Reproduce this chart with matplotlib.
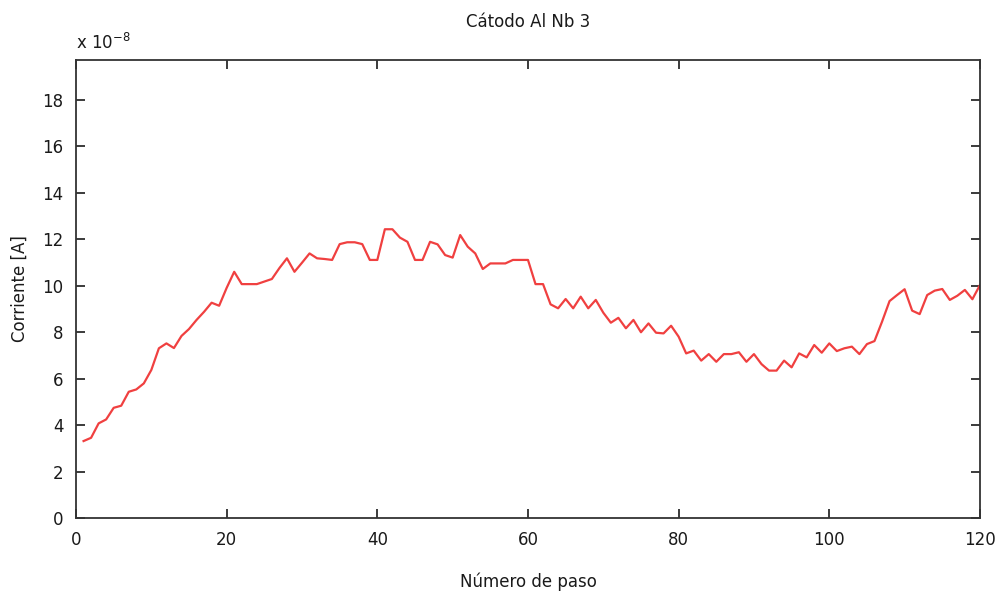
import numpy as np
import matplotlib.pyplot as plt

# Corriente medida en cada paso (en unidades de 1e-8 A)
paso = list(range(1, 121))
corriente = [
    3.31, 3.45, 4.07, 4.24, 4.74, 4.83, 5.43, 5.53, 5.79, 6.37,
    7.30, 7.51, 7.31, 7.83, 8.13, 8.52, 8.87, 9.26, 9.13, 9.90,
    10.59, 10.06, 10.06, 10.06, 10.17, 10.28, 10.75, 11.17, 10.59, 10.98,
    11.38, 11.17, 11.14, 11.10, 11.78, 11.86, 11.86, 11.78, 11.10, 11.10,
    12.42, 12.42, 12.06, 11.88, 11.10, 11.10, 11.88, 11.77, 11.31, 11.20,
    12.17, 11.67, 11.38, 10.71, 10.95, 10.95, 10.95, 11.10, 11.10, 11.10,
    10.06, 10.06, 9.19, 9.02, 9.42, 9.02, 9.52, 9.02, 9.38, 8.83,
    8.40, 8.61, 8.16, 8.52, 7.99, 8.37, 7.97, 7.94, 8.27, 7.80,
    7.08, 7.20, 6.77, 7.05, 6.72, 7.05, 7.05, 7.13, 6.72, 7.05,
    6.62, 6.34, 6.34, 6.77, 6.48, 7.08, 6.91, 7.44, 7.11, 7.51,
    7.18, 7.30, 7.37, 7.05, 7.48, 7.61, 8.44, 9.33, 9.59, 9.84,
    8.92, 8.77, 9.59, 9.78, 9.85, 9.38, 9.56, 9.81, 9.41, 10.02,
]
xticks = [0, 20, 40, 60, 80, 100, 120]
yticks = [0, 2, 4, 6, 8, 10, 12, 14, 16, 18]

fig = plt.figure(figsize=(10.03, 5.91), dpi=100)
ax = fig.add_axes([0.0758, 0.1235, 0.9012, 0.775])

ax.plot(paso, corriente, color='#f04040', linewidth=1.6)

ax.set_xlim(0, 120)
ax.set_ylim(0, 19.7)
ax.set_xticks(xticks)
ax.set_yticks(yticks)
ax.tick_params(direction='in', length=6.5, width=1.2, top=True, right=True,
               labelsize=12, colors='#1a1a1a', pad=9)
for s in ax.spines.values():
    s.set_color('#333333')
    s.set_linewidth(1.3)

ax.set_title('Cátodo Al Nb 3', fontsize=12, color='#1a1a1a', pad=24)
ax.set_xlabel('Número de paso', fontsize=12, color='#1a1a1a', labelpad=17)
ax.set_ylabel('Corriente [A]', fontsize=12, color='#1a1a1a', labelpad=10)
ax.text(0.0, 1.015, r'x 10$^{-8}$', transform=ax.transAxes, fontsize=12,
        color='#1a1a1a', ha='left', va='bottom')

fig.savefig('out.png', dpi=100)
